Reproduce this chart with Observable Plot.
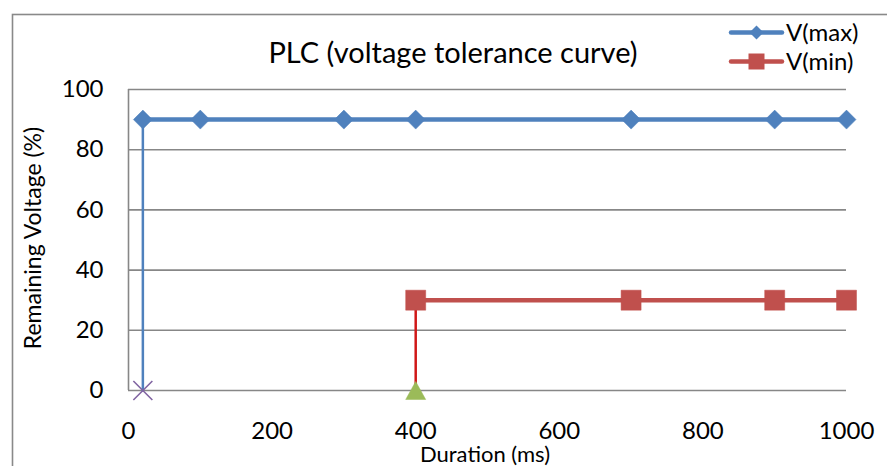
<!DOCTYPE html>
<html>
<head>
<meta charset="utf-8">
<script src="https://cdn.jsdelivr.net/npm/d3@7"></script>
<script src="https://cdn.jsdelivr.net/npm/@observablehq/plot@0.6"></script>
<style>
  html, body { margin: 0; padding: 0; background: #fff; }
  #chart svg { display: block; }
</style>
</head>
<body>
<div id="chart"></div>
<script>
// ---- data ----
const vmaxX = [20, 100, 300, 400, 700, 900, 1000];
const vmaxY = [90, 90, 90, 90, 90, 90, 90];
const vminX = [400, 700, 900, 1000];
const vminY = [30, 30, 30, 30];
const dropMaxX = [20, 20];      // vertical drop of V(max) at 20 ms
const dropMaxY = [0, 90];
const dropMinX = [400, 400];    // vertical drop of V(min) at 400 ms
const dropMinY = [0, 30];
const triX = [400], triY = [0];
const crossX = [20], crossY = [0];
const xTicks = [0, 200, 400, 600, 800, 1000];
const yTicks = [0, 20, 40, 60, 80, 100];
const titleText = "PLC (voltage tolerance curve)";
const xLabel = "Duration (ms)";
const yLabel = "Remaining Voltage (%)";
const seriesNames = ["V(max)", "V(min)"];

// ---- build tables ----
const vmax = vmaxX.map((x, i) => ({x, y: vmaxY[i]}));
const vmin = vminX.map((x, i) => ({x, y: vminY[i]}));
const dropMax = dropMaxX.map((x, i) => ({x, y: dropMaxY[i]}));
const dropMin = dropMinX.map((x, i) => ({x, y: dropMinY[i]}));
const tri = triX.map((x, i) => ({x, y: triY[i]}));
const cross = crossX.map((x, i) => ({x, y: crossY[i]}));

const BLUE = "#4F81BD", RED = "#C0504D", GREEN = "#9BBB59", PURPLE = "#8064A2";
const GRID = "#878787";
const FONT = "Lato, 'Open Sans', sans-serif";

// custom symbols: size = PI r^2, so r = sqrt(size/PI)
const diamond = {draw(c, s) { const r = Math.sqrt(s / Math.PI); c.moveTo(0, -r); c.lineTo(r, 0); c.lineTo(0, r); c.lineTo(-r, 0); c.closePath(); }};
const square = {draw(c, s) { const r = Math.sqrt(s / Math.PI); c.rect(-r, -r, 2 * r, 2 * r); }};
const triangle = {draw(c, s) { const r = Math.sqrt(s / Math.PI); c.moveTo(0, -r * 0.9); c.lineTo(r, r * 0.9); c.lineTo(-r, r * 0.9); c.closePath(); }};
const xmark = {draw(c, s) { const r = Math.sqrt(s / Math.PI); c.moveTo(-r, -r); c.lineTo(r, r); c.moveTo(r, -r); c.lineTo(-r, r); }};

const chart = Plot.plot({
  width: 887,
  height: 466,
  marginLeft: 128,
  marginRight: 41,
  marginTop: 89,
  marginBottom: 76,
  style: {fontFamily: FONT, fontSize: "24px", color: "#000", background: "#fff"},
  x: {domain: [0, 1000]},
  y: {domain: [0, 100]},
  marks: [
    Plot.gridY(yTicks, {stroke: GRID, strokeOpacity: 1, strokeWidth: 1.6}),
    Plot.ruleX([0], {y1: 0, y2: 100, stroke: GRID, strokeWidth: 1.6}),
    Plot.axisY({ticks: yTicks, tickSize: 0, tickPadding: 25, label: null, fontSize: 24, tickFormat: d3.format("d")}),
    Plot.axisX({ticks: xTicks, tickSize: 0, tickPadding: 31, label: null, fontSize: 24, tickFormat: d3.format("d")}),
    Plot.line(dropMax, {x: "x", y: "y", stroke: BLUE, strokeWidth: 2.5}),
    Plot.line(dropMin, {x: "x", y: "y", stroke: "#D01818", strokeWidth: 2.5}),
    Plot.line(vmax, {x: "x", y: "y", stroke: BLUE, strokeWidth: 4.5}),
    Plot.line(vmin, {x: "x", y: "y", stroke: RED, strokeWidth: 4.5}),
    Plot.dot(vmax, {x: "x", y: "y", symbol: diamond, r: 9.5, fill: BLUE, stroke: BLUE, strokeWidth: 0.5}),
    Plot.dot(vmin, {x: "x", y: "y", symbol: square, r: 10, fill: RED, stroke: RED, strokeWidth: 0.5}),
    Plot.dot(tri, {x: "x", y: "y", symbol: triangle, r: 10, fill: GREEN, stroke: GREEN, strokeWidth: 0.5}),
    Plot.dot(cross, {x: "x", y: "y", symbol: xmark, r: 9.5, fill: "none", stroke: PURPLE, strokeWidth: 1.6})
  ]
});

// ---- decorations (frame, title, axis labels, legend) ----
const svg = d3.select(chart);
svg.insert("rect", ":first-child")
  .attr("x", 12.5).attr("y", 14.5).attr("width", 900).attr("height", 500)
  .attr("fill", "#fff").attr("stroke", "#898989").attr("stroke-width", 1.6);

svg.append("text").text(titleText)
  .attr("x", 453).attr("y", 63).attr("text-anchor", "middle")
  .style("font-family", FONT).style("font-size", "29px").attr("fill", "#000");

svg.append("text").text(xLabel)
  .attr("x", 485).attr("y", 462).attr("text-anchor", "middle")
  .style("font-family", FONT).style("font-size", "22px").attr("fill", "#000");

svg.append("text").text(yLabel)
  .attr("transform", "translate(41,238) rotate(-90)").attr("text-anchor", "middle")
  .style("font-family", FONT).style("font-size", "23px").attr("fill", "#000");

const legend = [
  {name: seriesNames[0], color: BLUE, sym: diamond, r: 7, y: 32.5},
  {name: seriesNames[1], color: RED, sym: square, r: 8, y: 61.5}
];
legend.forEach(d => {
  const g = svg.append("g");
  g.append("line").attr("x1", 731).attr("x2", 782).attr("y1", d.y).attr("y2", d.y)
    .attr("stroke", d.color).attr("stroke-width", 4.5).attr("stroke-linecap", "round");
  const p = d3.path();
  d.sym.draw(p, Math.PI * d.r * d.r);
  g.append("path").attr("d", p.toString()).attr("transform", `translate(756.5,${d.y})`).attr("fill", d.color);
  g.append("text").text(d.name).attr("x", 786).attr("y", d.y + 8).attr("text-anchor", "start")
    .style("font-family", FONT).style("font-size", "24px").attr("fill", "#000");
});

document.getElementById("chart").appendChild(chart);
</script>
</body>
</html>
